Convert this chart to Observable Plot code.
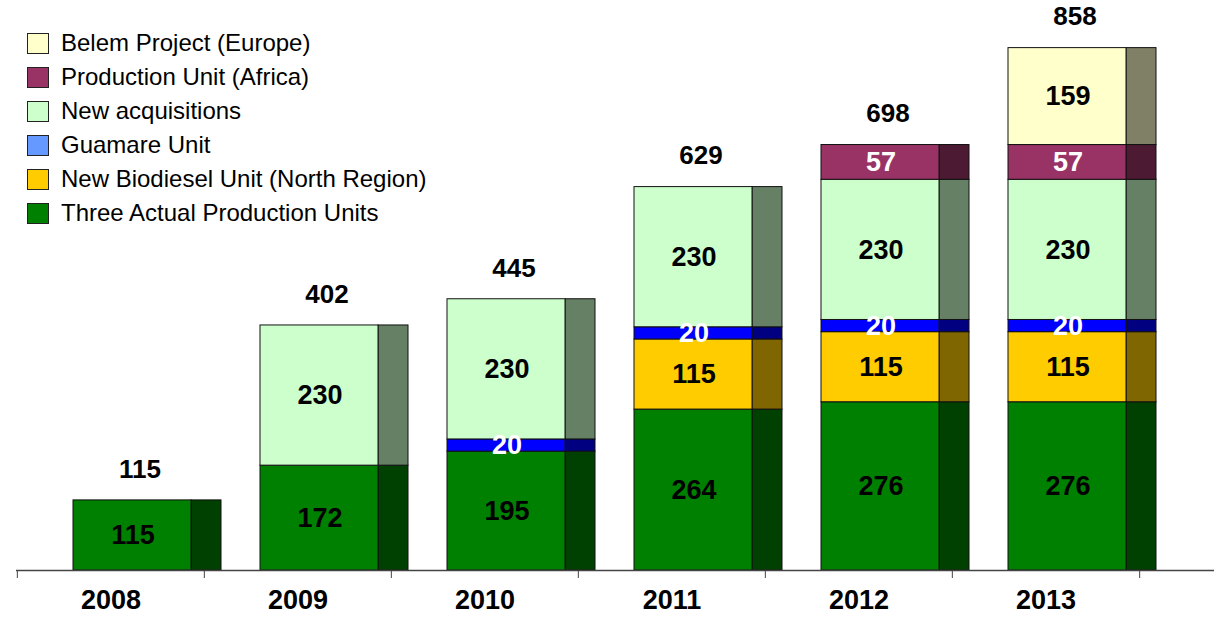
<!DOCTYPE html>
<html>
<head>
<meta charset="utf-8">
<script src="https://cdn.jsdelivr.net/npm/d3@7"></script>
<script src="https://cdn.jsdelivr.net/npm/@observablehq/plot@0.6"></script>
<style>
  body { margin: 0; background: #fff; }
  #wrap { position: relative; width: 1214px; height: 621px; overflow: hidden; }
  #legend { position: absolute; left: 27px; top: 26px; font-family: "Liberation Sans", Arial, sans-serif; font-size: 24px; color: #000; }
  .item { display: flex; align-items: center; height: 34px; }
  .sw { width: 20px; height: 19px; border: 1.5px solid #222; margin-right: 12px; box-sizing: content-box; }
</style>
</head>
<body>
<div id="wrap"><div id="chart"></div><div id="legend"></div></div>
<script>
// ---- data ----
const years = ["2008", "2009", "2010", "2011", "2012", "2013"];
const seriesNames = [
  "Three Actual Production Units",
  "New Biodiesel Unit (North Region)",
  "Guamare Unit",
  "New acquisitions",
  "Production Unit (Africa)",
  "Belem Project (Europe)"
];
const threeActual  = [115, 172, 195, 264, 276, 276];
const newBiodiesel = [0, 0, 0, 115, 115, 115];
const guamare      = [0, 0, 20, 20, 20, 20];
const newAcq       = [0, 230, 230, 230, 230, 230];
const africa       = [0, 0, 0, 0, 57, 57];
const belem        = [0, 0, 0, 0, 0, 159];
const totals       = [115, 402, 445, 629, 698, 858];

// ---- styles ----
const frontColors  = ["#008000", "#FFCC00", "#0000FF", "#CCFFCC", "#993366", "#FFFFCC"];
const sideColors   = ["#004000", "#806600", "#000080", "#668066", "#4D1A33", "#808066"];
const legendColors = ["#008000", "#FFCC00", "#6699FF", "#CCFFCC", "#993366", "#FFFFCC"];
const labelColors  = ["#000", "#000", "#fff", "#000", "#fff", "#000"];

const values = [threeActual, newBiodiesel, guamare, newAcq, africa, belem];
const rows = [];
years.forEach((yr, i) => {
  seriesNames.forEach((s, j) => {
    const v = values[j][i];
    if (v > 0) rows.push({year: yr, series: s, k: j, value: v});
  });
});
const totalRows = years.map((yr, i) => ({year: yr, total: totals[i]}));

const font = "Liberation Sans, Arial, sans-serif";
const bw = (1140 - 16) / years.length;

const chart = Plot.plot({
  width: 1214,
  height: 621,
  marginLeft: 16,
  marginRight: 0,
  marginTop: 47,
  marginBottom: 51,
  x: {domain: years, range: [16, 1140], padding: 0, axis: null},
  y: {domain: [0, 858], range: [570, 47], axis: null},
  color: {type: "identity"},
  style: {fontFamily: font, background: "#fff"},
  marks: [
    Plot.barY(rows, {x: "year", y: "value", fill: d => sideColors[d.k], stroke: "#111", strokeWidth: 1, insetLeft: 174, insetRight: -17}),
    Plot.barY(rows, {x: "year", y: "value", fill: d => frontColors[d.k], stroke: "#111", strokeWidth: 1, insetLeft: 56, insetRight: 13}),
    Plot.text(rows, Plot.stackY({x: "year", y: "value", text: d => String(d.value), fill: d => labelColors[d.k],
      dx: 22, fontSize: 27, fontWeight: "bold", fontFamily: font})),
    Plot.text(totalRows, {x: "year", y: "total", text: d => String(d.total), dx: 29, dy: -31,
      fontSize: 26, fontWeight: "bold", fontFamily: font, fill: "#000"}),
    Plot.ruleY([0], {stroke: "#444", strokeWidth: 1.5}),
    Plot.axisX({tickSize: 8, dx: -bw / 2, tickFormat: () => "", label: null, stroke: "#444"}),
    Plot.axisX(["2013"], {tickSize: 8, dx: bw / 2, tickFormat: () => "", label: null, stroke: "#444"}),
    Plot.text(years, {x: d => d, frameAnchor: "bottom", dy: 38, text: d => d,
      fontSize: 27, fontWeight: "bold", fontFamily: font, fill: "#000"})
  ]
});
document.getElementById("chart").appendChild(chart);

// legend (top to bottom = top of stack first)
const legend = document.getElementById("legend");
for (let j = seriesNames.length - 1; j >= 0; j--) {
  const item = document.createElement("div");
  item.className = "item";
  const sw = document.createElement("div");
  sw.className = "sw";
  sw.style.background = legendColors[j];
  const lab = document.createElement("span");
  lab.textContent = seriesNames[j];
  item.appendChild(sw);
  item.appendChild(lab);
  legend.appendChild(item);
}
</script>
</body>
</html>
